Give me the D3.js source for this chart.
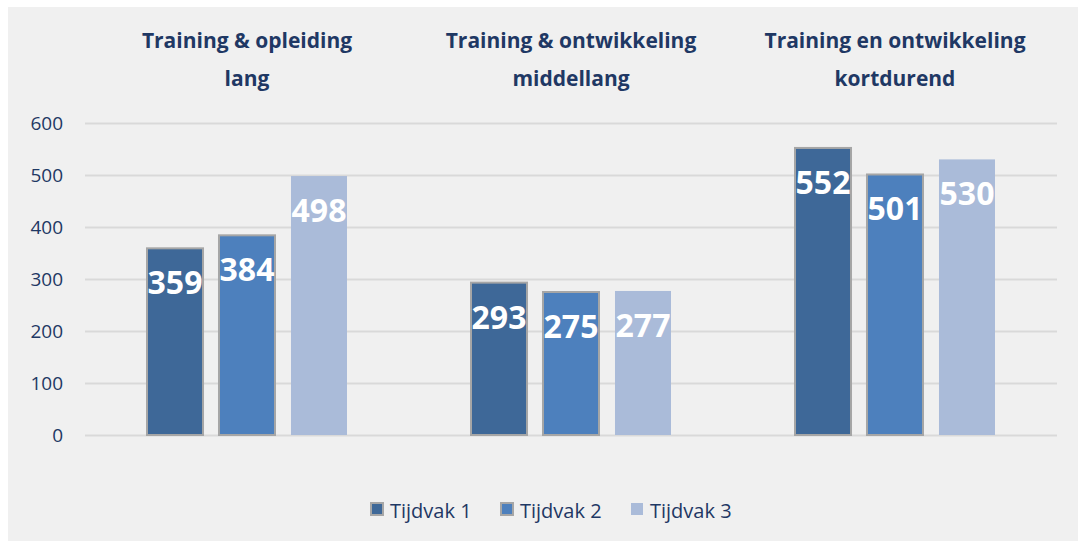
<!DOCTYPE html>
<html>
<head>
<meta charset="utf-8">
<script src="https://cdn.jsdelivr.net/npm/d3@7"></script>
<style>
  body { margin: 0; background: #fff; }
  svg { display: block; font-family: "Open Sans", "Noto Sans", sans-serif; }
</style>
</head>
<body>
<svg id="chart" width="1078" height="541"></svg>
<script>
// data
var categories = [
  ["Training & opleiding", "lang"],
  ["Training & ontwikkeling", "middellang"],
  ["Training en ontwikkeling", "kortdurend"]
];
var series = ["Tijdvak 1", "Tijdvak 2", "Tijdvak 3"];
var tijdvak1 = [359, 293, 552];
var tijdvak2 = [384, 275, 501];
var tijdvak3 = [498, 277, 530];
var yTicks = [0, 100, 200, 300, 400, 500, 600];

var colors = ["#3e6898", "#4d80bd", "#aabbd9"];
var strokes = ["#a6a6a6", "#a6a6a6", "none"];
var textColor = "#1f3864";

var svg = d3.select("#chart");

// grey chart panel
svg.append("rect")
  .attr("x", 8).attr("y", 7)
  .attr("width", 1070).attr("height", 534)
  .attr("fill", "#f0f0f0");

var plotLeft = 85, plotRight = 1057, plotTop = 123, plotBottom = 435;

var x0 = d3.scaleBand()
  .domain(d3.range(categories.length))
  .range([plotLeft, plotRight]);
var x1 = d3.scaleBand()
  .domain(d3.range(series.length))
  .range([x0.bandwidth() / 2 - 100, x0.bandwidth() / 2 + 100])
  .paddingInner(0.222)
  .paddingOuter(0);
var y = d3.scaleLinear().domain([0, 600]).range([plotBottom, plotTop]);

// gridlines + y labels
var yAxis = d3.axisLeft(y).tickValues(yTicks).tickSize(-(plotRight - plotLeft)).tickPadding(22);
var gy = svg.append("g").attr("transform", "translate(" + plotLeft + ",0)").call(yAxis);
gy.select(".domain").remove();
gy.selectAll(".tick line").attr("stroke", "#d9d9d9").attr("stroke-width", 2);
gy.selectAll(".tick text")
  .attr("fill", textColor)
  .style("font-family", "'Open Sans', sans-serif")
  .style("font-size", "19px");

// category titles on top
var titles = svg.append("g").selectAll("text")
  .data(categories)
  .enter().append("text")
  .attr("x", function (d, i) { return x0(i) + x0.bandwidth() / 2; })
  .attr("y", 48)
  .attr("text-anchor", "middle")
  .attr("fill", textColor)
  .style("font-size", "21px")
  .style("font-weight", "bold");
titles.append("tspan").text(function (d) { return d[0]; });
titles.append("tspan")
  .attr("x", function (d, i) { return x0(i) + x0.bandwidth() / 2; })
  .attr("dy", 38)
  .text(function (d) { return d[1]; });

// bars
var values = [tijdvak1, tijdvak2, tijdvak3];
var cells = [];
values.forEach(function (vals, s) {
  vals.forEach(function (v, c) { cells.push({ s: s, c: c, v: v }); });
});

var bars = svg.append("g");
bars.selectAll("rect")
  .data(cells)
  .enter().append("rect")
  .attr("x", function (d) { return x0(d.c) + x1(d.s); })
  .attr("y", function (d) { return y(d.v); })
  .attr("width", x1.bandwidth())
  .attr("height", function (d) { return y(0) - y(d.v); })
  .attr("fill", function (d) { return colors[d.s]; })
  .attr("stroke", function (d) { return strokes[d.s]; })
  .attr("stroke-width", 2);

bars.selectAll("text")
  .data(cells)
  .enter().append("text")
  .attr("x", function (d) { return x0(d.c) + x1(d.s) + x1.bandwidth() / 2; })
  .attr("y", function (d) { return y(d.v) + 46; })
  .attr("text-anchor", "middle")
  .attr("fill", "#fff")
  .style("font-size", "32px")
  .style("font-weight", "bold")
  .text(function (d) { return d.v; });

// legend
var legend = svg.append("g").selectAll("g")
  .data(series)
  .enter().append("g")
  .attr("transform", function (d, i) { return "translate(" + (371 + i * 130) + ",503)"; });
legend.append("rect")
  .attr("width", 12).attr("height", 12)
  .attr("fill", function (d, i) { return colors[i]; })
  .attr("stroke", function (d, i) { return strokes[i]; })
  .attr("stroke-width", 2);
legend.append("text")
  .attr("x", 19).attr("y", 15)
  .attr("fill", textColor)
  .style("font-size", "20px")
  .text(function (d) { return d; });
</script>
</body>
</html>
